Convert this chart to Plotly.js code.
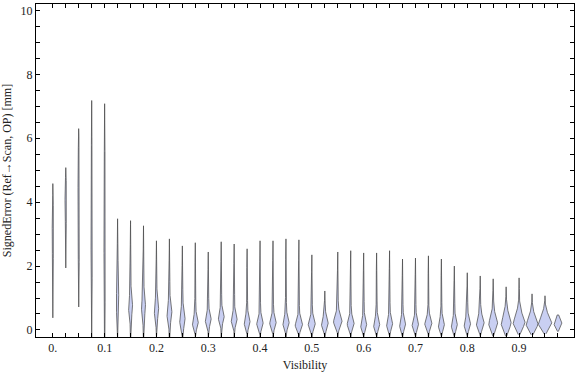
<!DOCTYPE html>
<html>
<head>
<meta charset="utf-8">
<script src="https://cdn.plot.ly/plotly-3.0.1.min.js"></script>
<style>html,body{margin:0;padding:0;background:#fff;}#chart{width:576px;height:377px;}</style>
</head>
<body>
<div id="chart"></div>
<script>
// Visibility bin centres
const visibility = [0, 0.025, 0.05, 0.075, 0.1, 0.125, 0.15, 0.175, 0.2, 0.225,
  0.25, 0.275, 0.3, 0.325, 0.35, 0.375, 0.4, 0.425, 0.45, 0.475,
  0.5, 0.525, 0.55, 0.575, 0.6, 0.625, 0.65, 0.675, 0.7, 0.725,
  0.75, 0.775, 0.8, 0.825, 0.85, 0.875, 0.9, 0.925, 0.95, 0.975];
// Largest signed error in each bin [mm]
const maxError = [4.58, 5.08, 6.30, 7.18, 7.08, 3.48, 3.42, 3.26, 2.79, 2.85,
  2.63, 2.73, 2.44, 2.76, 2.69, 2.54, 2.79, 2.79, 2.85, 2.82,
  2.35, 1.22, 2.44, 2.48, 2.41, 2.41, 2.48, 2.22, 2.25, 2.32,
  2.22, 2.00, 1.79, 1.69, 1.60, 1.35, 1.63, 1.13, 1.07, 0.47];
// Smallest signed error in each bin [mm]
const minError = [0.38, 1.94, 0.72, -0.30, -1.25, -0.30, -0.40, -0.40, -0.25, -0.45,
  -0.40, -0.25, -0.25, -0.25, -0.25, -0.25, -0.25, -0.25, -0.25, -0.25,
  -0.25, -0.25, -0.25, -0.25, -0.25, -0.25, -0.25, -0.25, -0.25, -0.25,
  -0.22, -0.22, -0.22, -0.20, -0.20, -0.20, -0.15, -0.15, -0.12, -0.05];
// Most frequent signed error (widest point of the violin) [mm]
const modeError = [3.5, 4.3, 5.0, 3.5, 3.5, 0.8, 0.7, 0.7, 0.6, 0.5,
  0.3, 0.2, 0.3, 0.38, 0.3, 0.22, 0.18, 0.2, 0.2, 0.14,
  0.16, 0.18, 0.25, 0.17, 0.13, 0.14, 0.16, 0.15, 0.14, 0.18,
  0.13, 0.13, 0.16, 0.19, 0.19, 0.2, 0.22, 0.17, 0.2, 0.19];
// Relative density at the mode (violin half-width, visibility units)
const modeDensity = [0.0016, 0.0016, 0.0012, 0.0010, 0.0012, 0.0020, 0.0036, 0.0036, 0.0040, 0.0046,
  0.0050, 0.0055, 0.0055, 0.0055, 0.0055, 0.0055, 0.0058, 0.0058, 0.0058, 0.0068,
  0.0064, 0.0064, 0.0080, 0.0064, 0.0056, 0.0056, 0.0056, 0.0056, 0.0056, 0.0064,
  0.0056, 0.0056, 0.0060, 0.0074, 0.0084, 0.0094, 0.0112, 0.0112, 0.0130, 0.0074];
// Spread of the main cluster [mm]
const spread = [0.5, 0.5, 1.2, 2.0, 2.0, 0.8, 0.5, 0.5, 0.5, 0.5,
  0.5, 0.35, 0.35, 0.35, 0.35, 0.35, 0.35, 0.35, 0.35, 0.35,
  0.35, 0.35, 0.4, 0.35, 0.35, 0.35, 0.35, 0.35, 0.35, 0.35,
  0.35, 0.35, 0.35, 0.4, 0.45, 0.5, 0.5, 0.45, 0.45, 0.3];

const xTickVals = visibility.slice();
const xTickText = ["0.", "", "", "", "0.1", "", "", "", "0.2", "", "", "", "0.3", "", "", "", "0.4", "", "", "",
  "0.5", "", "", "", "0.6", "", "", "", "0.7", "", "", "", "0.8", "", "", "", "0.9", "", "", ""];
const yTickVals = [0, 0.5, 1, 1.5, 2, 2.5, 3, 3.5, 4, 4.5, 5, 5.5, 6, 6.5, 7, 7.5, 8, 8.5, 9, 9.5, 10];
const yTickText = ["0", "", "", "", "2", "", "", "", "4", "", "", "", "6", "", "", "", "8", "", "", "", "10"];

function halfWidth(i, y) {
  const lo = minError[i], hi = maxError[i], m = modeError[i], s = spread[i];
  const d = y - m;
  const sUp = s * 1.5;
  let w = 0;
  if (d >= 0 && d < sUp) w = modeDensity[i] * Math.pow(1 - d / sUp, 1.7);
  if (d < 0 && -d < s) w = modeDensity[i] * Math.pow(1 + d / s, 1.5);
  const tail = 0.0009 * Math.min((hi - y) / (hi - lo) * 3, 1) * Math.min((y - lo) / (hi - lo) * 8, 1);
  return w + Math.max(tail, 0);
}

const traces = visibility.map((x0, i) => {
  const lo = minError[i], hi = maxError[i];
  const n = 240;
  const ys = [];
  for (let k = 0; k <= n; k++) ys.push(lo + (hi - lo) * k / n);
  ys.push(modeError[i]);
  ys.sort((a, b) => a - b);
  const xs = [], yy = [];
  ys.forEach(y => { xs.push(x0 + halfWidth(i, y)); yy.push(y); });
  for (let k = ys.length - 1; k >= 0; k--) { xs.push(x0 - halfWidth(i, ys[k])); yy.push(ys[k]); }
  return {
    type: 'scatter', mode: 'lines', x: xs, y: yy, fill: 'toself',
    fillcolor: '#c9cff2', line: {color: 'rgba(70,70,70,0.8)', width: 0.9},
    hoverinfo: 'skip', showlegend: false
  };
});

const fam = 'Liberation Serif, Times New Roman, serif';
const layout = {
  width: 576, height: 377,
  margin: {l: 36, r: 2, t: 4, b: 40},
  paper_bgcolor: '#fff', plot_bgcolor: '#fff',
  font: {family: fam, size: 12, color: '#222'},
  showlegend: false,
  xaxis: {
    range: [-0.0325, 1.006], showgrid: false, zeroline: false,
    showline: true, linecolor: '#000', linewidth: 1, mirror: 'allticks',
    ticks: 'inside', ticklen: 4, tickcolor: '#000', tickwidth: 1,
    tickmode: 'array', tickvals: xTickVals, ticktext: xTickText,
    tickfont: {family: fam, size: 12, color: '#222'},
    title: {text: 'Visibility', font: {family: fam, size: 12, color: '#222'}, standoff: 6}
  },
  yaxis: {
    range: [-0.22, 10.2], showgrid: false, zeroline: false,
    showline: true, linecolor: '#000', linewidth: 1, mirror: 'allticks',
    ticks: 'inside', ticklen: 4, tickcolor: '#000', tickwidth: 1,
    tickmode: 'array', tickvals: yTickVals, ticktext: yTickText,
    tickfont: {family: fam, size: 12, color: '#222'},
    title: {text: 'SignedError (Ref\u2192Scan, OP) [mm]', font: {family: fam, size: 12, color: '#222'}, standoff: 8}
  }
};

Plotly.newPlot('chart', traces, layout, {staticPlot: true, displayModeBar: false});
</script>
</body>
</html>
